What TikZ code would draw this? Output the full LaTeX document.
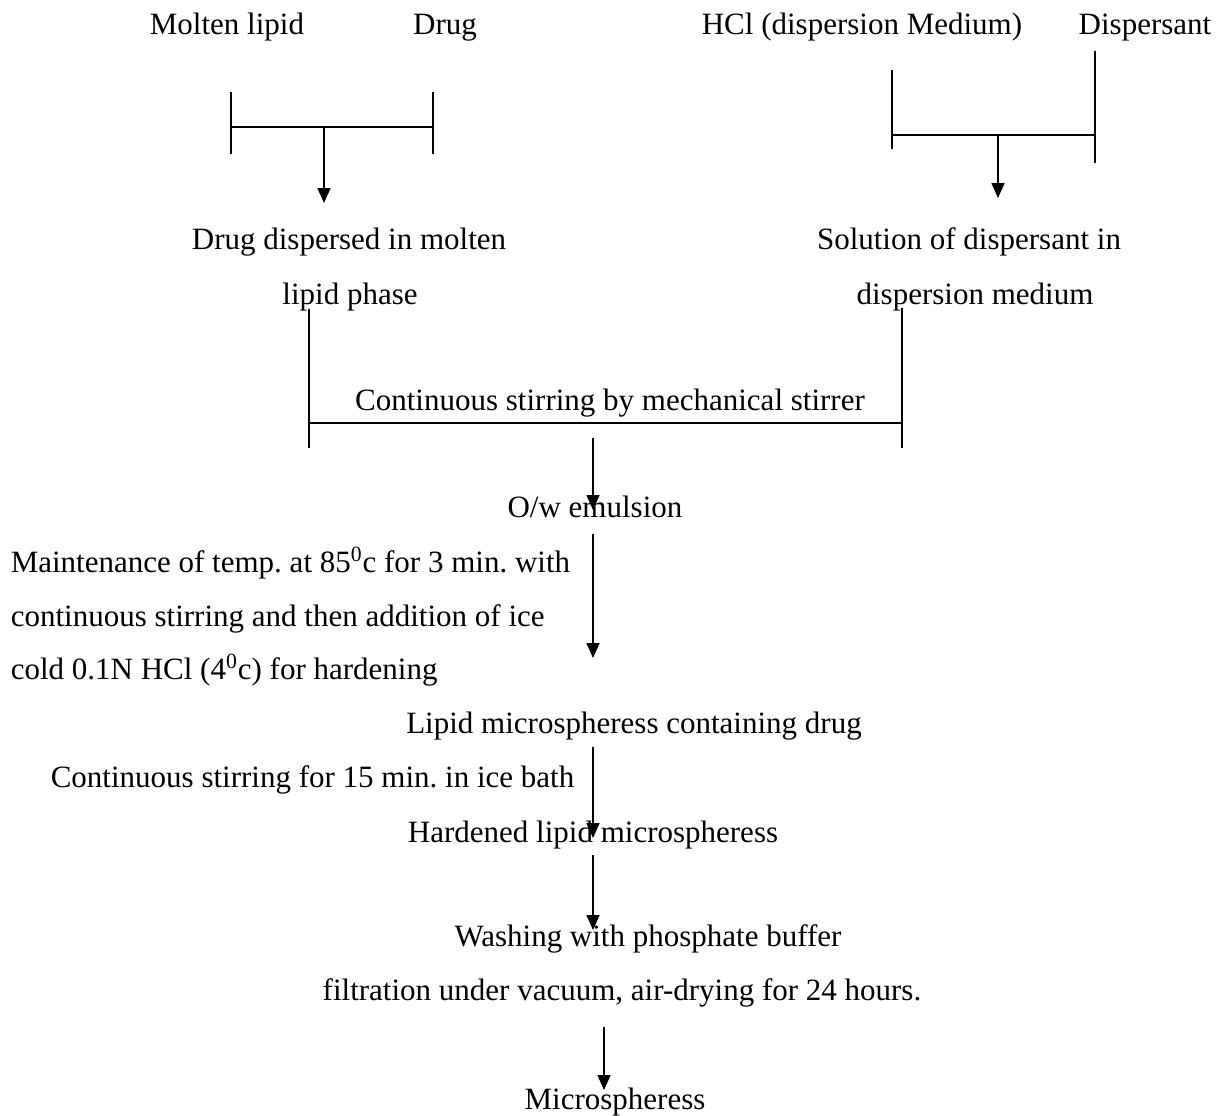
\documentclass[tikz,border=0pt]{standalone}
\usepackage{fontspec}
\setmainfont{Liberation Serif}
\usetikzlibrary{arrows.meta}
\frenchspacing

\tikzset{
	flow/.style={-{Triangle[length=7.5pt,width=6.5pt]}},
	txt/.style={inner sep=0pt,anchor=base},
	txtl/.style={inner sep=0pt,anchor=base west}
}

\begin{document}
\begin{tikzpicture}[x=0.5pt,y=-0.5pt,line width=0.8pt,font=\fontsize{15.5}{18}\selectfont]
		\useasboundingbox (0,0) rectangle (1222,1115);
		
		\begin{scope}[every node/.style={txt}]
		\node (lipid) at (227, 34)   {Molten lipid};
		\node (drug)  at (445, 34)   {Drug};
		\node (hcl)   at (862, 34)   {HCl (dispersion Medium)};
		\node (dsp)   at (1145, 34)  {Dispersant};
		
		\node (melt-1) at (349, 249) {Drug dispersed in molten};
		\node (melt-2) at (350, 304) {lipid phase};
		\node (sol-1)  at (969, 249) {Solution of dispersant in};
		\node (sol-2)  at (975, 304) {dispersion medium};
		
		\node (stir)  at (610, 410)  {Continuous stirring by mechanical stirrer};
		\node (emul)  at (595, 517)  {O/w emulsion};
		
		\node[txtl] (heat-1) at (10, 572) {Maintenance of temp. at 85\textsuperscript{0}c for 3 min. with};
		\node[txtl] (heat-2) at (10, 626) {continuous stirring and then addition of ice};
		\node[txtl] (heat-3) at (10, 679) {cold 0.1N HCl (4\textsuperscript{0}c) for hardening};
		
		\node (sph)   at (634, 733)  {Lipid microspheress containing drug};
		\node[txtl] (ice) at (50, 787) {Continuous stirring for 15 min. in ice bath};
		\node (hard)  at (593, 842)  {Hardened lipid microspheress};
		
		\node (wash-1) at (648, 946)  {Washing with phosphate buffer};
		\node (wash-2) at (622, 1000) {filtration under vacuum, air-drying for 24 hours.};
		\node (final)  at (615, 1109) {Microspheress};
		\end{scope}
		
		\coordinate (l-a) at (231, 92);   \coordinate (l-b) at (231, 154);
		\coordinate (l-c) at (433, 92);   \coordinate (l-d) at (433, 154);
		\coordinate (l-l) at (231, 127);  \coordinate (l-r) at (433, 127);
		\coordinate (l-m) at (324, 127);  \coordinate (l-t) at (324, 203);
		
		\coordinate (r-a) at (892, 70);   \coordinate (r-b) at (892, 149);
		\coordinate (r-c) at (1095, 51);  \coordinate (r-d) at (1095, 163);
		\coordinate (r-l) at (892, 135);  \coordinate (r-r) at (1095, 135);
		\coordinate (r-m) at (998, 135);  \coordinate (r-t) at (998, 198);
		
		\coordinate (m-a) at (309, 309);  \coordinate (m-b) at (309, 448);
		\coordinate (m-c) at (902, 308);  \coordinate (m-d) at (902, 448);
		\coordinate (m-l) at (309, 423);  \coordinate (m-r) at (902, 423);
		
		\coordinate (s1) at (593, 438);   \coordinate (s1t) at (593, 510);
		\coordinate (s2) at (593, 534);   \coordinate (s2t) at (593, 658);
		\coordinate (s3) at (593, 747);   \coordinate (s3t) at (593, 838);
		\coordinate (s4) at (593, 855);   \coordinate (s4t) at (593, 930);
		\coordinate (s5) at (604, 1027);  \coordinate (s5t) at (604, 1090);
		
		
		\draw (l-a) -- (l-b);
		\draw (l-c) -- (l-d);
		\draw (l-l) -- (l-r);
		\path [flow] (l-m) edge (l-t);
		
		\draw (r-a) -- (r-b);
		\draw (r-c) -- (r-d);
		\draw (r-l) -- (r-r);
		\path [flow] (r-m) edge (r-t);
		
		\draw (m-a) -- (m-b);
		\draw (m-c) -- (m-d);
		\draw (m-l) -- (m-r);
		
		\path [flow] (s1) edge (s1t);
		\path [flow] (s2) edge (s2t);
		\path [flow] (s3) edge (s3t);
		\path [flow] (s4) edge (s4t);
		\path [flow] (s5) edge (s5t);
		
\end{tikzpicture}
\end{document}
